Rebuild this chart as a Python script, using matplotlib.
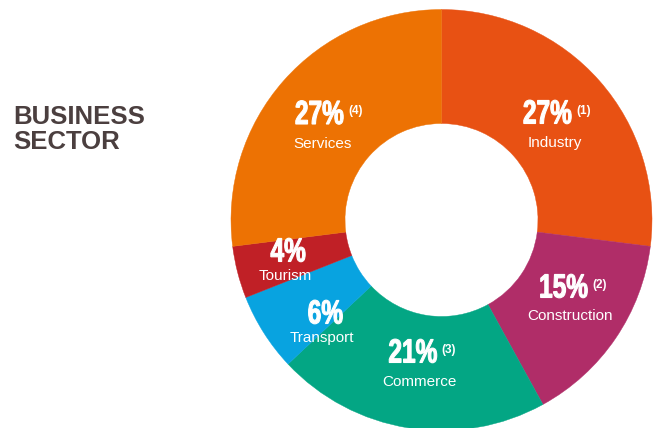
import matplotlib.pyplot as plt
import matplotlib.transforms as mtransforms
from matplotlib.font_manager import FontProperties
from matplotlib.patches import PathPatch
from matplotlib.textpath import TextPath

sectors = ['Industry', 'Construction', 'Commerce', 'Transport', 'Tourism', 'Services']
shares = [27, 15, 21, 6, 4, 27]
notes = ['(1)', '(2)', '(3)', '', '', '(4)']
colours = ['#E85113', '#B02D68', '#03A684', '#08A3E0', '#C02026', '#ED7203']

# label anchors in pixel space: percentage (ink centre x, baseline) and name (centre x, baseline)
pct_pos = [(547.5, 123.5), (564, 297.5), (413, 362.5), (325.5, 323.5), (288, 261.5), (319.5, 124)]
name_pos = [(554.5, 147.5), (570, 320), (419, 386), (322, 342), (285, 280), (323, 147.5)]

W, H = 653, 428
fig = plt.figure(figsize=(W / 100, H / 100), dpi=100)
ax = fig.add_axes([0, 0, 1, 1])

# y axis runs downward, so counterclock in data space is clockwise on screen
wedges, _ = ax.pie(shares, colors=colours, startangle=270, counterclock=True,
                   center=(441.5, 220), radius=210.5,
                   wedgeprops=dict(width=114, linewidth=0.3))
for w, c in zip(wedges, colours):
    w.set_edgecolor(c)

ax.set_xlim(0, W)
ax.set_ylim(H, 0)
ax.set_aspect('equal')
ax.axis('off')

bold = FontProperties(family='Liberation Sans', weight='bold')


def narrow_text(x, y, s, size, squeeze, lw=0.6):
    """Draw s as a horizontally squeezed outline, ink centred on x, baseline on y."""
    tp = TextPath((0, 0), s, size=size, prop=bold)
    ext = tp.get_extents()
    x0 = x - (ext.x0 + ext.x1) / 2 * squeeze
    tr = mtransforms.Affine2D().scale(squeeze, -1).translate(x0, y) + ax.transData
    ax.add_patch(PathPatch(tp, transform=tr, facecolor='white',
                           edgecolor='white', linewidth=lw))
    return x0 + ext.x1 * squeeze, y - ext.y1


for share, note, name, (px, py), (nx, ny) in zip(shares, notes, sectors, pct_pos, name_pos):
    right, top = narrow_text(px, py, f'{share}%', 33.5, 0.73, lw=0.8)
    if note:
        ax.text(right + 5, top + 4.5, note, ha='left', va='top', color='white',
                fontsize=8.5, fontweight='bold', family='Liberation Sans')
    ax.text(nx, ny, name, ha='center', va='baseline', color='white',
            fontsize=11, family='Liberation Sans')

for line, y in zip(['BUSINESS', 'SECTOR'], [123.5, 149]):
    ax.text(13, y, line, ha='left', va='baseline', color='#4B3F3F',
            fontsize=18.5, fontweight='bold', family='Liberation Sans')

fig.savefig('out.png', dpi=100)
